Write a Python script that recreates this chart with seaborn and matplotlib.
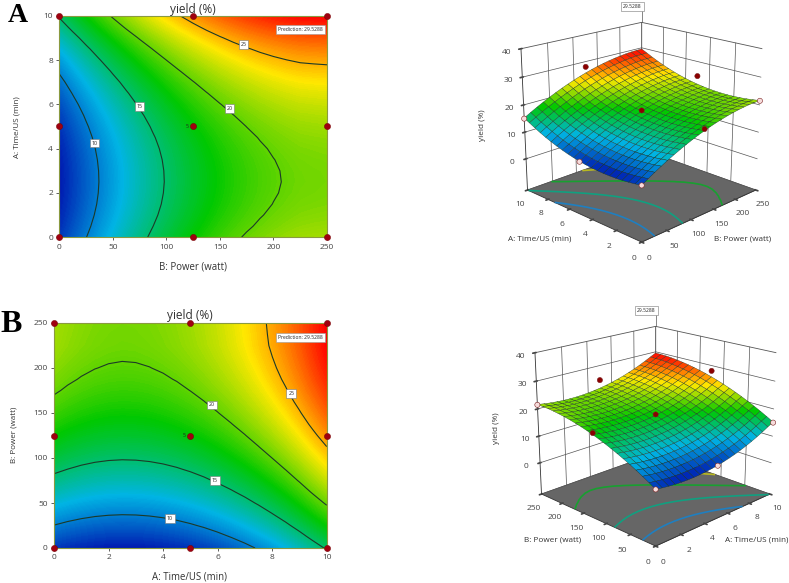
import numpy as np
import pandas as pd
import seaborn as sns
from matplotlib import pyplot as plt
from matplotlib.colors import LinearSegmentedColormap

sns.set_theme(style='white')
plt.rcParams['font.family'] = ['Open Sans', 'DejaVu Sans']

# grid
power_grid = [0, 12.5, 25, 37.5, 50, 62.5, 75, 87.5, 100, 112.5, 125,
              137.5, 150, 162.5, 175, 187.5, 200, 212.5, 225, 237.5, 250]
time_grid = [0, 0.5, 1, 1.5, 2, 2.5, 3, 3.5, 4, 4.5, 5,
             5.5, 6, 6.5, 7, 7.5, 8, 8.5, 9, 9.5, 10]
# yield along the valley (time about 2.5 min) and the rise away from it
yield_by_power = [6.19, 7.54, 8.83, 10.05, 11.20, 12.28, 13.30, 14.25, 15.14, 15.96, 16.71,
                  17.40, 18.02, 18.57, 19.06, 19.48, 19.83, 20.12, 20.34, 20.43, 20.50]
rise_by_time = [1.13, 0.74, 0.43, 0.20, 0.06, 0.00, 0.03, 0.14, 0.33, 0.60, 0.96,
                1.40, 1.93, 2.54, 3.23, 4.01, 4.87, 5.81, 6.84, 7.95, 9.03]

# design points
design_time = [0, 5, 10, 0, 5, 10, 0, 5, 10]
design_power = [0, 0, 0, 125, 125, 125, 250, 250, 250]
design_yield = [7.3, 7.0, 15.0, 18.4, 18.0, 28.0, 21.5, 24.5, 29.53]
design_colour = ['#f7dcdc', '#f7dcdc', '#f7dcdc', '#8b0000', '#8b0000', '#8b0000',
                 '#f7dcdc', '#8b0000', '#8b0000']

contour_levels = [10, 15, 20, 25]
label_time = [4.25, 5.9, 5.8, 8.7]
label_power = [33, 75, 159, 172]
level_colours = ['#1f7fc0', '#10a080', '#18a030', '#b8b820']
colour_stops = ['#0018b0', '#00b4e4', '#00c800', '#ffe800', '#ff0000']
prediction = '29.5288'

yield_grid = np.add.outer(np.array(rise_by_time), np.array(yield_by_power))
cmap = LinearSegmentedColormap.from_list('design', colour_stops)
zmin, zmax = -12, 40
vmin, vmax = yield_grid.min(), yield_grid.max()

W, H = 789, 583
fig = plt.figure(figsize=(W / 100, H / 100), dpi=100)


def put(x, y, s, **kw):
    kw.setdefault('ha', 'center')
    kw.setdefault('va', 'center')
    kw.setdefault('color', '#333333')
    fig.text(x / W, 1 - y / H, s, **kw)


def contour_panel(box, swap, title_xy, xlab_xy, ylab_xy, pred_xy):
    l, t, r, b = box
    ax = fig.add_axes([l / W, 1 - b / H, (r - l) / W, (b - t) / H])
    if swap:
        x, y, z = time_grid, power_grid, yield_grid.T
        pts = pd.DataFrame({'x': design_time, 'y': design_power})
        lab_x, lab_y = label_time, label_power
        ax.set_xticks([0, 2, 4, 6, 8, 10])
        ax.set_yticks([0, 50, 100, 150, 200, 250])
        ax.set_xlim(0, 10)
        ax.set_ylim(0, 250)
    else:
        x, y, z = power_grid, time_grid, yield_grid
        pts = pd.DataFrame({'x': design_power, 'y': design_time})
        lab_x, lab_y = label_power, label_time
        ax.set_xticks([0, 50, 100, 150, 200, 250])
        ax.set_yticks([0, 2, 4, 6, 8, 10])
        ax.set_xlim(0, 250)
        ax.set_ylim(0, 10)
    ax.contourf(x, y, z, levels=np.linspace(vmin, vmax, 200), cmap=cmap, antialiased=False)
    ax.contour(x, y, z, levels=contour_levels, colors='#1c3a28', linewidths=0.8)
    for lx, ly, lev in zip(lab_x, lab_y, contour_levels):
        ax.text(lx, ly, str(lev), fontsize=3.8, ha='center', va='center', color='#222222', zorder=4,
                bbox=dict(boxstyle='square,pad=0.35', fc='white', ec='#777777', lw=0.4))
    sns.scatterplot(data=pts, x='x', y='y', ax=ax, color='#a00010', s=20, edgecolor='#700000',
                    linewidth=0.3, clip_on=False, zorder=5, legend=False)
    ax.text(pts['x'].iloc[4], pts['y'].iloc[4], '5   ', fontsize=3.8, ha='right', va='center', color='#222222')
    ax.set_xlabel('')
    ax.set_ylabel('')
    ax.tick_params(labelsize=6, colors='#444444', length=2.5, width=0.6, pad=2, bottom=True, left=True)
    for s in ax.spines.values():
        s.set_color('#8a9a40')
        s.set_linewidth(0.8)
    put(*title_xy, 'yield (%)', fontsize=8.6)
    put(*xlab_xy, 'A: Time/US (min)' if swap else 'B: Power (watt)', fontsize=6.9)
    put(*ylab_xy, 'B: Power (watt)' if swap else 'A: Time/US (min)', fontsize=5.8, rotation=90)
    put(*pred_xy, 'Prediction: ' + prediction, fontsize=3.6, color='#222222', zorder=6,
        bbox=dict(boxstyle='square,pad=0.4', fc='white', ec='#999999', lw=0.4))


def surface_panel(rect, swap, left_lab, right_lab, ylab_xy):
    ax = fig.add_axes(rect, projection='3d', computed_zorder=False)
    ax.set_proj_type('persp', focal_length=0.6)
    ax.view_init(elev=19, azim=225)
    ax.set_box_aspect((1, 1, 0.9), zoom=1.0)
    ax.patch.set_alpha(0)
    if swap:
        x, y = np.meshgrid(time_grid, power_grid)
        z = yield_grid.T
        px, py = design_time, design_power
        xt, yt = [0, 2, 4, 6, 8, 10], [0, 50, 100, 150, 200, 250]
        xmax, ymax = 10, 250
    else:
        x, y = np.meshgrid(power_grid, time_grid)
        z = yield_grid
        px, py = design_power, design_time
        xt, yt = [0, 50, 100, 150, 200, 250], [0, 2, 4, 6, 8, 10]
        xmax, ymax = 250, 10
    ax.set_xlim(0, xmax)
    ax.set_ylim(0, ymax)
    ax.set_zlim(zmin, zmax)
    ax.set_xticks(xt)
    ax.set_yticks(yt)
    ax.set_zticks([0, 10, 20, 30, 40])
    ax.grid(False)
    ax.xaxis.set_pane_color('white')
    ax.yaxis.set_pane_color('white')
    ax.zaxis.set_pane_color('#666666')
    for a in (ax.xaxis, ax.yaxis, ax.zaxis):
        a.pane.set_edgecolor('#555555')
        a.pane.set_linewidth(0.6)
        a.line.set_color('#333333')
        a.line.set_linewidth(0.6)
    ax.tick_params(labelsize=6, colors='#444444', pad=-2, length=2, width=0.5)
    # wall grid
    for v in xt[1:-1]:
        ax.plot([v, v], [ymax, ymax], [zmin, zmax], color='#555555', lw=0.5, zorder=0.5)
    for v in yt[1:-1]:
        ax.plot([xmax, xmax], [v, v], [zmin, zmax], color='#555555', lw=0.5, zorder=0.5)
    for v in [0, 10, 20, 30]:
        ax.plot([0, xmax, xmax], [ymax, ymax, 0], [v, v, v], color='#555555', lw=0.5, zorder=0.5)
    ax.contour(x, y, z, levels=contour_levels, colors=level_colours, offset=zmin, zdir='z',
               linewidths=1.2, zorder=1)
    ax.plot_surface(x, y, z, cmap=cmap, vmin=vmin, vmax=vmax, rstride=1, cstride=1,
                    edgecolor='#1a3320', linewidth=0.25, shade=False, antialiased=True, zorder=2)
    # back corner point sits in the peak of the surface, so it is left out
    ax.scatter(px[:-1], py[:-1], design_yield[:-1], c=design_colour[:-1], s=14, edgecolors='#7a2020',
               linewidths=0.4, depthshade=False, zorder=3)
    ax.text(xmax, ymax, zmax + 6, prediction, fontsize=3.6, ha='right', va='center', color='#222222',
            bbox=dict(boxstyle='square,pad=0.4', fc='white', ec='#777777', lw=0.4), zorder=4)
    ax.plot([xmax, xmax], [ymax, ymax], [zmax, zmax + 4.5], color='#555555', lw=0.5, zorder=3)
    put(*left_lab[:2], left_lab[2], fontsize=5.9)
    put(*right_lab[:2], right_lab[2], fontsize=5.9)
    put(*ylab_xy, 'yield (%)', fontsize=5.9, rotation=90)


contour_panel((59.3, 15.7, 327, 237.3), False, (193, 9.5), (193, 267), (17, 127), (300.7, 29.7))
contour_panel((54, 323, 326.7, 548), True, (190, 316), (190, 577), (14, 435), (300.7, 337.7))

surface_panel([493 / W, 1 - 260 / H, 290 / W, 270 / H], False,
              (540, 239, 'A: Time/US (min)'), (743, 239, 'B: Power (watt)'), (483, 125))
surface_panel([507 / W, 1 - 564 / H, 290 / W, 270 / H], True,
              (553, 540, 'B: Power (watt)'), (757, 540, 'A: Time/US (min)'), (496, 428))

put(18, 15, 'A', fontsize=20, fontweight='bold', family='Liberation Serif', color='black')
put(11, 324, 'B', fontsize=23, fontweight='bold', family='Liberation Serif', color='black')

fig.savefig('out.png', dpi=100)
